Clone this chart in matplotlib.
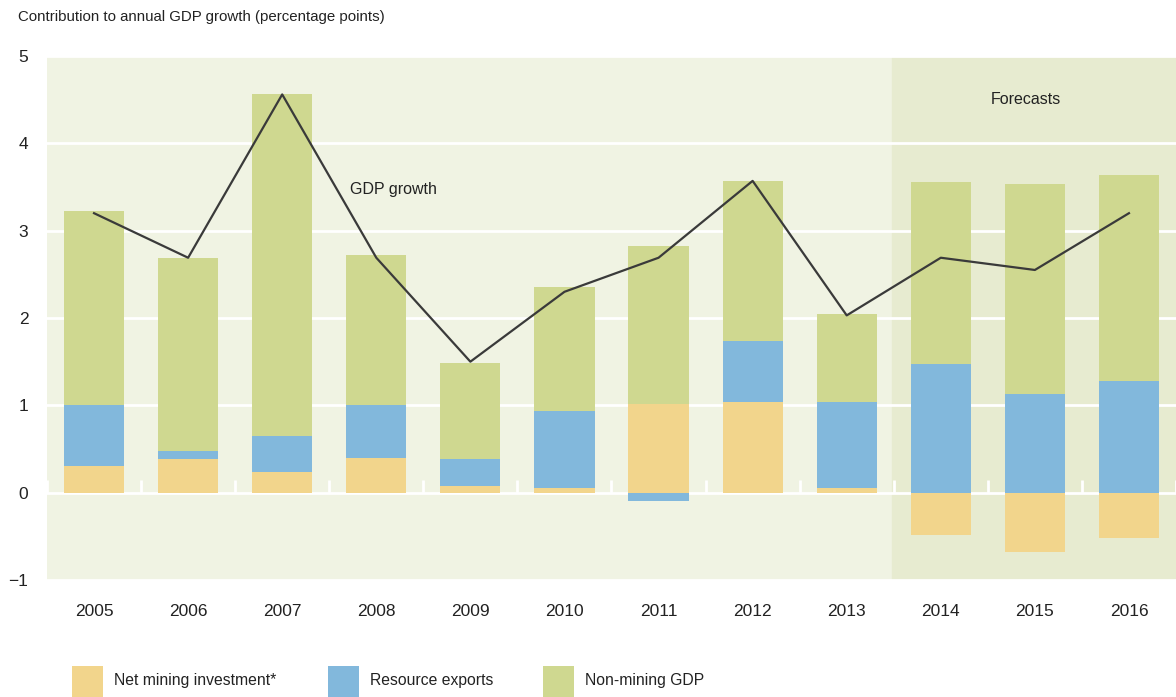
import numpy as np
import matplotlib
matplotlib.use("Agg")
import matplotlib.pyplot as plt
from matplotlib.patches import Rectangle

plt.rcParams["font.family"] = ["Liberation Sans Narrow", "Liberation Sans", "DejaVu Sans"]

years = ["2005", "2006", "2007", "2008", "2009", "2010",
         "2011", "2012", "2013", "2014", "2015", "2016"]
net_mining = [0.30, 0.38, 0.24, 0.40, 0.08, 0.05, 1.01, 1.04, 0.05, -0.48, -0.68, -0.52]
resource_exports = [0.70, 0.10, 0.41, 0.60, 0.30, 0.89, -0.10, 0.70, 0.99, 1.47, 1.13, 1.28]
non_mining = [2.22, 2.21, 3.92, 1.72, 1.10, 1.41, 1.82, 1.83, 1.01, 2.09, 2.40, 2.36]
gdp_growth = [3.20, 2.69, 4.56, 2.69, 1.50, 2.30, 2.69, 3.57, 2.03, 2.69, 2.55, 3.20]
forecast_start = 9  # index of first forecast year

YELLOW = "#F2D58C"
BLUE = "#82B8DC"
GREEN = "#CFD890"
BG = "#F0F3E3"
BG_FC = "#E7EBD0"
TXT = "#222222"

fig = plt.figure(figsize=(11.76, 6.97), dpi=100)
ax = fig.add_axes([47 / 1176, 1 - 580 / 697, 1 - 47 / 1176, (580 - 56) / 697])

x = np.arange(len(years))
ax.set_xlim(-0.5, len(years) - 0.5)
ax.set_ylim(-1, 5)
ax.set_facecolor(BG)
ax.axvspan(forecast_start - 0.52, len(years) - 0.5, color=BG_FC, zorder=0)

for y in range(-1, 6):
    ax.axhline(y, color="white", linewidth=2, zorder=1)
ax.vlines(np.arange(-0.5, len(years)), 0, 0.14, color="white", linewidth=2, zorder=1)

# stack positives upward, negatives downward
pos = np.zeros(len(years))
neg = np.zeros(len(years))
for vals, col in [(net_mining, YELLOW), (resource_exports, BLUE), (non_mining, GREEN)]:
    v = np.array(vals)
    bottom = np.where(v >= 0, pos, neg)
    ax.bar(x, v, bottom=bottom, width=0.64, color=col, linewidth=0, zorder=2)
    pos = np.where(v >= 0, pos + v, pos)
    neg = np.where(v < 0, neg + v, neg)

ax.plot(x, gdp_growth, color="#3a3a3a", linewidth=1.6, zorder=3)

ax.text(2.72, 3.47, "GDP growth", fontsize=11.5, color=TXT, ha="left", va="center")
ax.text(9.9, 4.5, "Forecasts", fontsize=11.5, color=TXT, ha="center", va="center")

for s in ax.spines.values():
    s.set_visible(False)
ax.set_xticks(x)
ax.set_xticklabels(years, fontsize=12.5, color=TXT)
ax.set_yticks(range(-1, 6))
ax.set_yticklabels(["\u22121", "0", "1", "2", "3", "4", "5"], fontsize=12.5, color=TXT)
ax.tick_params(axis="both", length=0)
ax.tick_params(axis="x", pad=17.5)
ax.tick_params(axis="y", pad=13.5)

fig.text(18 / 1176, 1 - 17 / 697, "Contribution to annual GDP growth (percentage points)",
         fontsize=10.8, color=TXT, ha="left", va="center")

legend_items = [("Net mining investment*", YELLOW, 72),
                ("Resource exports", BLUE, 328),
                ("Non-mining GDP", GREEN, 543)]
for label, col, px in legend_items:
    fig.patches.append(Rectangle((px / 1176, 0), 31 / 1176, 31 / 697,
                                 transform=fig.transFigure, color=col, linewidth=0))
    fig.text((px + 42) / 1176, 1 - 681 / 697, label, fontsize=11.3, color=TXT,
             ha="left", va="center")

fig.savefig("out.png", dpi=100)
